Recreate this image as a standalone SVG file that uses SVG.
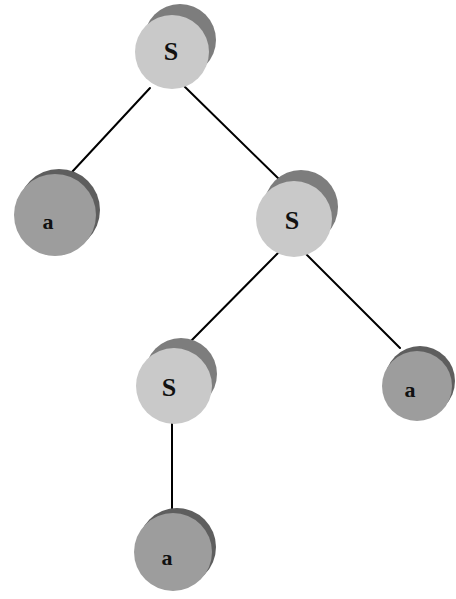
<svg xmlns="http://www.w3.org/2000/svg" width="456" height="599" viewBox="0 0 456 599">
  <style>
    .edge { stroke: #000; stroke-width: 2; fill: none; stroke-linecap: round; }
    .s-back { fill: #7d7d7d; }
    .s-front { fill: #c9c9c9; }
    .a-back { fill: #5e5e5e; }
    .a-front { fill: #9d9d9d; }
    .lbl { font-family: "Liberation Serif", "Times New Roman", serif; font-weight: bold; text-anchor: middle; fill: #111; }
    .lbl-s { font-size: 26px; }
    .lbl-a { font-size: 22px; }
  </style>

  <g id="connectors">
    <line class="edge" x1="150" y1="88" x2="72" y2="172"/>
    <line class="edge" x1="183" y1="85" x2="282" y2="182"/>
    <line class="edge" x1="278" y1="253" x2="188" y2="344"/>
    <line class="edge" x1="305" y1="253" x2="400" y2="348"/>
    <line class="edge" x1="172" y1="420" x2="172" y2="516"/>
  </g>

  <g id="node-root-S">
    <circle class="s-back" cx="180" cy="40" r="36"/>
    <circle class="s-front" cx="172" cy="52" r="37"/>
    <text class="lbl lbl-s" x="171" y="60">S</text>
  </g>

  <g id="node-left-a">
    <circle class="a-back" cx="59" cy="210" r="41"/>
    <circle class="a-front" cx="55" cy="215" r="41"/>
    <text class="lbl lbl-a" x="48" y="229">a</text>
  </g>

  <g id="node-mid-S">
    <circle class="s-back" cx="301" cy="207" r="37"/>
    <circle class="s-front" cx="294" cy="219" r="38"/>
    <text class="lbl lbl-s" x="292" y="229">S</text>
  </g>

  <g id="node-lower-S">
    <circle class="s-back" cx="181" cy="374" r="36"/>
    <circle class="s-front" cx="174" cy="386" r="38"/>
    <text class="lbl lbl-s" x="169" y="396">S</text>
  </g>

  <g id="node-right-a">
    <circle class="a-back" cx="420" cy="381" r="35"/>
    <circle class="a-front" cx="417" cy="386" r="35"/>
    <text class="lbl lbl-a" x="410" y="397">a</text>
  </g>

  <g id="node-bottom-a">
    <circle class="a-back" cx="177" cy="547" r="39"/>
    <circle class="a-front" cx="173" cy="552" r="39"/>
    <text class="lbl lbl-a" x="167" y="565">a</text>
  </g>
</svg>
